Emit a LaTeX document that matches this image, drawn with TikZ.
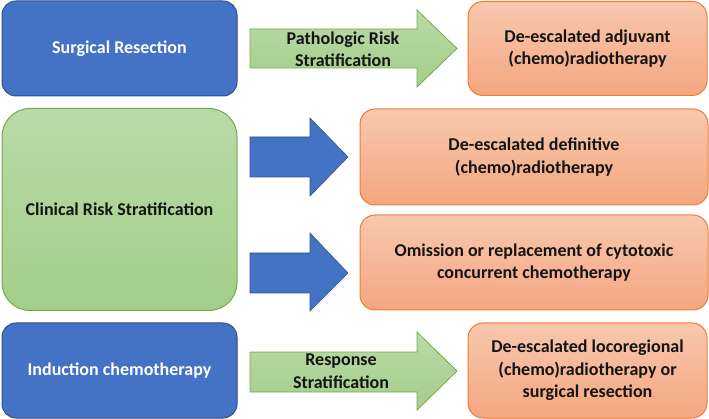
\documentclass[tikz,border=0pt]{standalone}
\usepackage{fontspec}
\setmainfont{Carlito}
\definecolor{oblue}{HTML}{4472C4}
\definecolor{obluedark}{HTML}{2F528F}
\definecolor{ogreenline}{HTML}{70AD47}
\definecolor{ogreentop}{RGB}{186,217,168}
\definecolor{ogreenbot}{RGB}{163,206,137}
\definecolor{oorangeline}{HTML}{ED7D31}
\definecolor{oorangetop}{RGB}{248,200,174}
\definecolor{oorangebot}{RGB}{244,166,128}
\definecolor{txt}{RGB}{20,20,20}
\begin{document}
\begin{tikzpicture}[x=1pt,y=-1pt,
  box/.style={align=center, font=\fontsize{18}{22.5}\selectfont\bfseries, line width=1pt, inner sep=0pt},
  bluebox/.style={box, rounded corners=14pt, draw=obluedark, fill=oblue, text=white},
  greenbox/.style={box, rounded corners=28pt, draw=ogreenline, top color=ogreentop, bottom color=ogreenbot, text=txt},
  orangebox/.style={box, rounded corners=15pt, draw=oorangeline, top color=oorangetop, bottom color=oorangebot, text=txt},
  garrow/.style={draw=ogreenline, line width=0.8pt, top color=ogreentop, bottom color=ogreenbot},
  barrow/.style={draw=obluedark, line width=0.6pt, fill=oblue},
  lbl/.style={align=center, font=\fontsize{18}{22.5}\selectfont\bfseries, text=txt, inner sep=0pt}]
\useasboundingbox (0,0) rectangle (709,419);

% left column
\node[bluebox, minimum width=235pt, minimum height=95pt] (sr) at (119.5,48.5) {Surgical Resection};
\node[greenbox, minimum width=235pt, minimum height=202pt] (crs) at (119.5,209.5) {Clinical Risk Stratification};
\node[bluebox, minimum width=235pt, minimum height=95pt] (ic) at (119.5,370.5) {Induction chemotherapy};

% right column
\node[orangebox, minimum width=239pt, minimum height=94pt] (o1) at (587.5,48.5) {De-escalated adjuvant\\(chemo)radiotherapy};
\node[orangebox, minimum width=348pt, minimum height=96pt] (o2) at (534,157) {De-escalated definitive\\(chemo)radiotherapy};
\node[orangebox, minimum width=348pt, minimum height=95pt] (o3) at (534,262.5) {Omission or replacement of cytotoxic\\concurrent chemotherapy};
\node[orangebox, minimum width=239pt, minimum height=95pt] (o4) at (587.5,370.5) {De-escalated locoregional\\(chemo)radiotherapy or\\surgical resection};

% green block arrows
\draw[garrow] (250,29) -- (417,29) -- (417,10) -- (457,48.5) -- (417,87) -- (417,68) -- (250,68) -- cycle;
\node[lbl] (prs) at (343,49.5) {Pathologic Risk\\Stratification};
\draw[garrow] (250,352) -- (417,352) -- (417,332) -- (457,371) -- (417,410) -- (417,392) -- (250,392) -- cycle;
\node[lbl] (rs) at (341,371) {Response\\Stratification};

% blue block arrows
\draw[barrow] (250,137) -- (310,137) -- (310,118) -- (348,157) -- (310,196) -- (310,177) -- (250,177) -- cycle;
\draw[barrow] (250,253) -- (310,253) -- (310,233) -- (348,273) -- (310,311) -- (310,293) -- (250,293) -- cycle;
\end{tikzpicture}
\end{document}
